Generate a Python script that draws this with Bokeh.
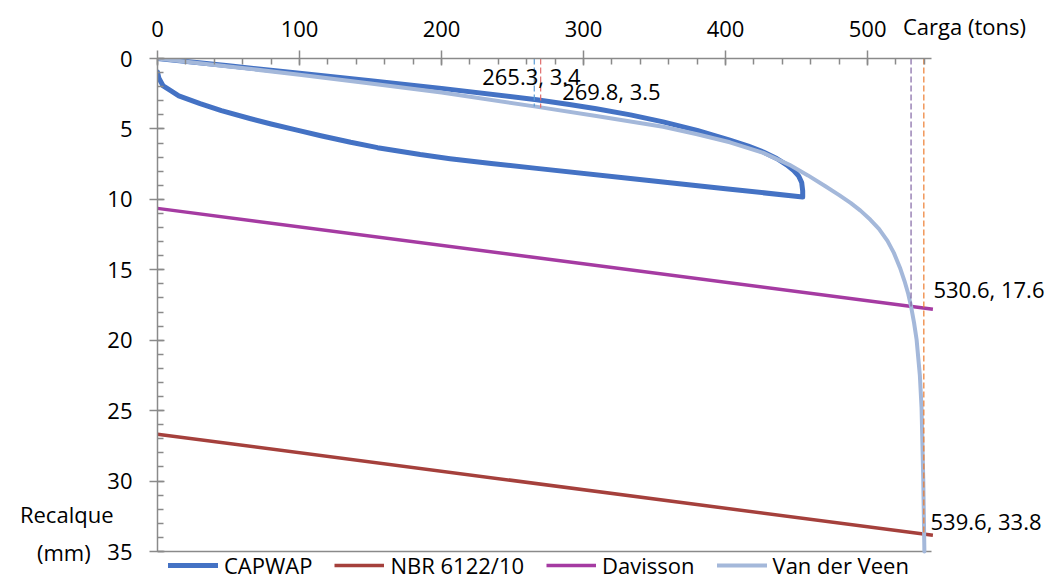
from bokeh.plotting import figure
from bokeh.models import (Range1d, SingleIntervalTicker, FixedTicker, LinearAxis, Label,
                          Legend, LegendItem)
from bokeh.embed import file_html
from bokeh.resources import INLINE

# ---------------- data ----------------
capwap_x = [0, 50, 100, 150, 200, 267, 290, 309, 333, 356, 380, 403, 416, 426.6, 436, 443,
            448, 451.5, 453.6, 454.3, 454.3,
            451, 400, 333, 267, 235, 206, 185, 155, 136, 115, 99, 80, 65, 45, 30, 15, 9, 4, 1, 0]
capwap_y = [0, 0.52, 1.05, 1.57, 2.12, 2.93, 3.27, 3.57, 4.0, 4.5, 5.1, 5.8, 6.22, 6.64, 7.1,
            7.55, 7.95, 8.35, 8.8, 9.4, 9.83,
            9.79, 9.25, 8.52, 7.8, 7.45, 7.11, 6.82, 6.33, 5.95, 5.48, 5.1, 4.65, 4.26, 3.7,
            3.2, 2.65, 2.27, 1.95, 1.4, 0.97]

vdv_x = [0, 50, 100, 150, 200, 265.3, 309, 356, 380, 403, 426.6, 445, 458, 470, 480, 488,
         495, 502, 508, 514, 518.5, 522.8, 526, 528.6, 530.6, 532.7, 534.5, 536.8, 538,
         539.2, 540]
vdv_y = [0, 0.56, 1.15, 1.77, 2.42, 3.4, 4.08, 4.85, 5.38, 5.95, 6.7, 7.55, 8.3, 9.05,
         9.7, 10.25, 10.8, 11.45, 12.1, 12.95, 13.8, 14.85, 15.8, 16.7, 17.6, 18.75, 19.95,
         22.5, 24.8, 29.9, 35.0]

davisson_x = [0, 546]
davisson_y = [10.64, 17.8]

nbr_x = [0, 546]
nbr_y = [26.67, 33.85]

marker_x = [265.3, 269.8, 530.6, 539.6]
marker_y = [3.4, 3.5, 17.6, 33.8]
marker_colors = ["#5B9BD5", "#E06C6C", "#8064A2", "#ED7D31"]

series_names = ["CAPWAP", "NBR 6122/10", "Davisson", "Van der Veen"]
x_title = "Carga (tons)"
y_title = ["Recalque", "(mm)"]

x_max = 545
y_max = 35

# ---------------- layout / style ----------------
FONT = "Open Sans"
FS = "22px"
GRAY = "#8A8A8A"
W, H = 1050, 580
LEFT, TOP = 157, 58
PX_X = 774 / x_max          # pixels per ton
PX_Y = 493 / y_max          # pixels per mm
X_END = (W - LEFT) / PX_X   # frame extends right of the axis end (room for labels)
Y_END = (H - TOP) / PX_Y    # frame extends below the axis end (room for legend)

p = figure(width=W, height=H, output_backend="svg", toolbar_location=None,
           x_range=Range1d(0, X_END), y_range=Range1d(Y_END, 0),
           x_axis_location="above",
           min_border_left=LEFT, min_border_right=0,
           min_border_top=TOP, min_border_bottom=0)
p.outline_line_color = None
p.background_fill_color = "white"
p.border_fill_color = "white"

xax = p.xaxis[0]
yax = p.yaxis[0]
xax.ticker = SingleIntervalTicker(interval=100, num_minor_ticks=5)
yax.ticker = SingleIntervalTicker(interval=5, num_minor_ticks=5)
xax.bounds = (0, x_max)
yax.bounds = (0, y_max)

for ax in (xax, yax):
    ax.axis_line_color = GRAY
    ax.axis_line_width = 1.5
    ax.major_tick_line_color = GRAY
    ax.major_tick_line_width = 1.5
    ax.minor_tick_line_color = GRAY
    ax.minor_tick_line_width = 1.5
    ax.major_tick_in = 7
    ax.major_tick_out = 8
    ax.minor_tick_in = 6
    ax.minor_tick_out = 0
    ax.major_label_text_font = FONT
    ax.major_label_text_font_size = FS
    ax.major_label_text_color = "black"

xax.major_label_standoff = 14
yax.major_label_standoff = 17


def text_axis(ticks, overrides, bounds, standoff):
    return LinearAxis(ticker=FixedTicker(ticks=ticks, minor_ticks=[]),
                      major_label_overrides=overrides, bounds=bounds,
                      axis_line_color=None, major_tick_line_color=None,
                      minor_tick_line_color=None, major_tick_in=0, major_tick_out=0,
                      minor_tick_in=0, minor_tick_out=0, major_label_standoff=standoff,
                      major_label_text_font=FONT, major_label_text_font_size=FS,
                      major_label_text_color="black")


# axis title "Carga (tons)" at the right end of the top axis row
title_tick = (964 - LEFT) / PX_X
p.add_layout(text_axis([title_tick], {title_tick: x_title},
                       (title_tick - 1, title_tick + 1), -23), "above")

# axis title "Recalque (mm)" at the bottom left
y_title_pos = [(513 - TOP) / PX_Y, (551 - TOP) / PX_Y]
p.add_layout(text_axis(y_title_pos,
                       {y_title_pos[0]: y_title[0], y_title_pos[1]: y_title[1] + "\u00a0" * 4},
                       (y_title_pos[0] - 0.5, y_title_pos[1] + 0.5), -9), "left")

p.xgrid.visible = False
p.ygrid.grid_line_color = GRAY
p.ygrid.grid_line_width = 1.5
p.ygrid.cross_bounds = (0, x_max)

# ---------------- series ----------------
r_cap = p.line(capwap_x, capwap_y, line_color="#4472C4", line_width=5,
               line_join="round", line_cap="round")
r_nbr = p.line(nbr_x, nbr_y, line_color="#A5403C", line_width=3.5)
r_dav = p.line(davisson_x, davisson_y, line_color="#A53BA2", line_width=3.5)
r_vdv = p.line(vdv_x, vdv_y, line_color="#A4B8DA", line_width=4,
               line_join="round", line_cap="round")

p.segment(x0=marker_x, y0=[0] * len(marker_x), x1=marker_x, y1=marker_y,
          line_color=marker_colors, line_width=1.2, line_dash="6 3")

# ---------------- value labels ----------------
label_offsets = [(-52.1, -30.5), (21.5, -16.9), (22.4, -17.9), (6.7, -13.3)]  # pixels
for mx, my, (dx, dy) in zip(marker_x, marker_y, label_offsets):
    p.add_layout(Label(x=mx + dx / PX_X, y=my + dy / PX_Y, text=f"{mx}, {my}",
                       text_font=FONT, text_font_size=FS, text_color="black",
                       text_baseline="middle", text_align="left"))

# ---------------- legend ----------------
renderers = [r_cap, r_nbr, r_dav, r_vdv]
legend = Legend(items=[LegendItem(label=n, renderers=[r]) for n, r in zip(series_names, renderers)],
                orientation="horizontal", location=(11, 0),
                glyph_width=50, glyph_height=20, label_standoff=6, spacing=22,
                padding=0, margin=0, border_line_color=None,
                background_fill_alpha=0, label_text_font=FONT,
                label_text_font_size=FS, label_text_color="black",
                label_height=20)
p.add_layout(legend)

open("out.html", "w").write(file_html(p, INLINE))
